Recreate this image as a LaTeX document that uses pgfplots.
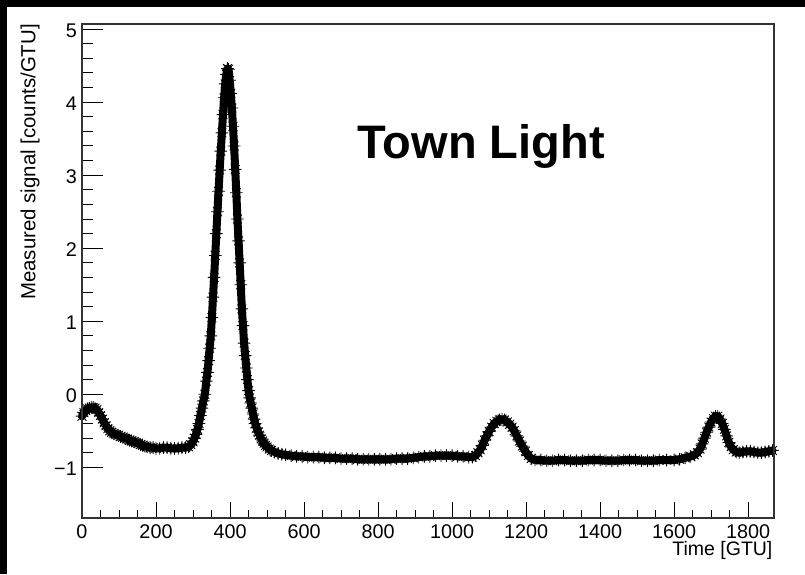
\documentclass[border=0pt]{standalone}
\usepackage{pgfplots}
\pgfplotsset{compat=1.18}
\usepackage{pgfplotstable}
\usepackage{fontspec}
\setmainfont{Liberation Sans}
\pgfdeclareplotmark{rootstar}{%
 \pgfpathmoveto{\pgfqpoint{\pgfplotmarksize}{0pt}}\pgfpathlineto{\pgfqpoint{-\pgfplotmarksize}{0pt}}%
 \pgfpathmoveto{\pgfqpoint{0pt}{\pgfplotmarksize}}\pgfpathlineto{\pgfqpoint{0pt}{-\pgfplotmarksize}}%
 \pgfpathmoveto{\pgfqpoint{.707\pgfplotmarksize}{.707\pgfplotmarksize}}\pgfpathlineto{\pgfqpoint{-.707\pgfplotmarksize}{-.707\pgfplotmarksize}}%
 \pgfpathmoveto{\pgfqpoint{-.707\pgfplotmarksize}{.707\pgfplotmarksize}}\pgfpathlineto{\pgfqpoint{.707\pgfplotmarksize}{-.707\pgfplotmarksize}}%
 \pgfusepathqstroke}
\pgfplotstableread{
x y
0 -0.30
5 -0.25
10 -0.22
15 -0.20
20 -0.19
25 -0.18
30 -0.18
35 -0.19
40 -0.21
45 -0.25
50 -0.29
55 -0.34
60 -0.39
65 -0.43
70 -0.47
75 -0.50
80 -0.52
86 -0.54
92 -0.55
98 -0.56
104 -0.58
110 -0.59
116 -0.60
122 -0.61
128 -0.63
134 -0.64
140 -0.65
146 -0.66
152 -0.67
158 -0.69
164 -0.70
170 -0.71
176 -0.72
184 -0.73
192 -0.73
200 -0.74
210 -0.74
220 -0.73
230 -0.73
240 -0.74
250 -0.74
260 -0.74
270 -0.73
280 -0.73
288 -0.72
294 -0.69
300 -0.65
304 -0.60
308 -0.55
312 -0.48
316 -0.40
320 -0.29
324 -0.19
328 -0.09
332 0.00
336 0.18
339 0.30
342 0.46
345 0.63
348 0.80
351 1.05
354 1.33
357 1.60
360 1.90
363 2.20
366 2.50
369 2.78
372 3.07
375 3.33
378 3.58
381 3.83
384 4.06
387 4.25
390 4.38
393 4.46
396 4.45
399 4.30
402 4.12
405 3.92
408 3.67
411 3.40
414 3.08
417 2.76
420 2.40
423 2.10
426 1.80
429 1.50
432 1.17
435 0.94
438 0.70
441 0.53
444 0.36
447 0.20
450 0.05
453 -0.05
456 -0.12
459 -0.19
462 -0.27
465 -0.34
468 -0.40
472 -0.46
476 -0.52
480 -0.56
484 -0.61
488 -0.64
492 -0.67
496 -0.70
500 -0.72
506 -0.75
512 -0.77
520 -0.79
530 -0.81
540 -0.82
550 -0.83
565 -0.84
580 -0.85
595 -0.85
610 -0.86
625 -0.86
640 -0.86
655 -0.87
670 -0.87
685 -0.87
700 -0.88
715 -0.88
730 -0.88
745 -0.89
760 -0.89
775 -0.89
790 -0.89
805 -0.89
820 -0.89
835 -0.89
850 -0.88
865 -0.88
880 -0.88
895 -0.87
910 -0.86
925 -0.85
940 -0.85
955 -0.84
970 -0.84
985 -0.84
1000 -0.84
1015 -0.85
1030 -0.85
1045 -0.86
1055 -0.86
1063 -0.84
1070 -0.80
1076 -0.76
1082 -0.70
1088 -0.63
1094 -0.57
1100 -0.51
1107 -0.45
1114 -0.40
1121 -0.37
1128 -0.35
1135 -0.34
1142 -0.35
1149 -0.38
1156 -0.41
1162 -0.45
1168 -0.50
1175 -0.57
1182 -0.64
1190 -0.71
1198 -0.78
1206 -0.84
1214 -0.88
1224 -0.90
1240 -0.90
1256 -0.91
1272 -0.91
1288 -0.90
1304 -0.90
1320 -0.91
1336 -0.91
1352 -0.91
1368 -0.90
1384 -0.90
1400 -0.90
1416 -0.91
1432 -0.91
1448 -0.91
1464 -0.90
1480 -0.90
1496 -0.90
1512 -0.91
1528 -0.91
1544 -0.91
1560 -0.90
1580 -0.90
1600 -0.90
1615 -0.89
1630 -0.87
1645 -0.85
1655 -0.83
1663 -0.80
1670 -0.75
1676 -0.68
1682 -0.60
1688 -0.52
1694 -0.45
1700 -0.38
1706 -0.33
1712 -0.30
1718 -0.30
1724 -0.34
1730 -0.40
1736 -0.48
1742 -0.57
1748 -0.66
1754 -0.72
1760 -0.76
1768 -0.79
1776 -0.80
1786 -0.79
1796 -0.78
1806 -0.78
1816 -0.79
1826 -0.80
1836 -0.80
1846 -0.79
1856 -0.78
1866 -0.77
}\signal
\pgfplotsset{
  rootframe/.style={
    at={(82pt,56pt)}, anchor=south west,
    scale only axis, width=692pt, height=494pt,
    xmin=0, xmax=1870, ymin=-1.694, ymax=5.07,
    tick pos=left, tick align=inside,
    /pgf/number format/assume math mode=true,
    /pgf/number format/1000 sep={},
    axis line style={black!80, line width=1.1pt},
    tick style={black, line width=1pt},
    tick label style={font=\fontsize{19.8}{19.8}\selectfont},
  }
}
\begin{document}
\begin{tikzpicture}
\useasboundingbox (0,0) rectangle (805pt,574pt);
\fill[black] (0,0) rectangle (805pt,574pt);
\fill[white] (7.3pt,0) rectangle (805pt,566.7pt);
% x axis ticks, data, title
\begin{axis}[rootframe,
  xtick={0,200,...,1800}, minor x tick num=3,
  ytick=\empty,
  major tick length=16pt, minor tick length=8pt,
  xticklabel style={anchor=base, inner sep=0pt, yshift=-20.3pt},
  xlabel={Time [GTU]},
  xlabel style={font=\fontsize{19.5}{19.5}\selectfont, at={(axis description cs:0.998,-0.0769)}, anchor=base east, inner sep=0pt},
  clip=false,
]
\addplot[black, line width=8pt, line join=round, line cap=round,
  mark=rootstar, mark size=6pt, mark options={line width=0.9pt, solid}] table[x=x,y=y] {\signal};
\node[anchor=base west, inner sep=0pt, font=\fontsize{47}{47}\selectfont\bfseries] at (axis cs:744,3.23) {Town Light};
\end{axis}
% y axis ticks and label
\begin{axis}[rootframe,
  xtick=\empty,
  ytick={-1,0,1,2,3,4,5}, minor y tick num=4,
  yticklabels={−1,0,1,2,3,4,5},
  major tick length=21pt, minor tick length=10.5pt,
  yticklabel style={anchor=east, inner sep=0pt, xshift=-5pt, yshift=-1.5pt},
  ylabel={Measured signal [counts/GTU]},
  ylabel style={font=\fontsize{20.4}{20.4}\selectfont, at={(axis description cs:-0.0672,1)}, anchor=base east, inner sep=0pt},
]
\end{axis}
\end{tikzpicture}
\end{document}
